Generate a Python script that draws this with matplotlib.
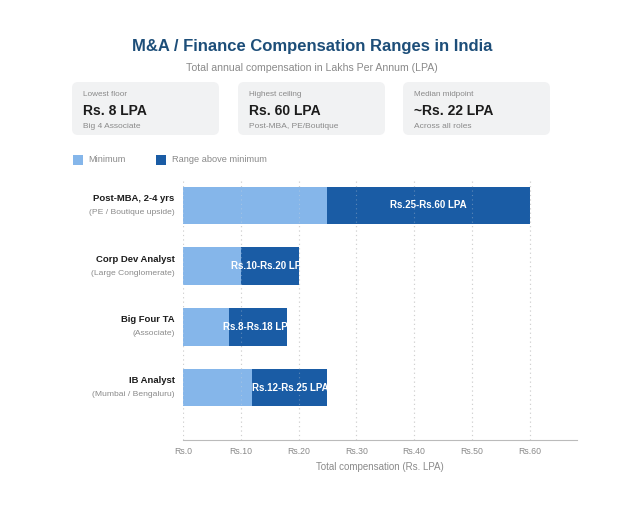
import matplotlib.pyplot as plt
from matplotlib.patches import FancyBboxPatch, Rectangle
from matplotlib.ticker import FuncFormatter

plt.rcParams['font.family'] = ['Liberation Sans', 'DejaVu Sans']

# Data (bottom to top)
roles = ['IB Analyst', 'Big Four TA', 'Corp Dev Analyst', 'Post-MBA, 2-4 yrs']
role_notes = ['(Mumbai / Bengaluru)', '(Associate)', '(Large Conglomerate)', '(PE / Boutique upside)']
mins = [12, 8, 10, 25]
maxs = [25, 18, 20, 60]
ticks = [0, 10, 20, 30, 40, 50, 60]

card_labels = ['Lowest floor', 'Highest ceiling', 'Median midpoint']
card_values = ['Rs. 8 LPA', 'Rs. 60 LPA', '~Rs. 22 LPA']
card_notes = ['Big 4 Associate', 'Post-MBA, PE/Boutique', 'Across all roles']

light = '#85B6EA'
dark = '#1A5CA5'
W, H = 624, 531

fig = plt.figure(figsize=(6.24, 5.31), dpi=100)

# overlay in pixel coordinates for header, cards and legend
ov = fig.add_axes([0, 0, 1, 1])
ov.set_xlim(0, W)
ov.set_ylim(H, 0)
ov.axis('off')

ov.text(312, 46, 'M&A / Finance Compensation Ranges in India', ha='center', va='center',
        fontsize=12, fontweight='bold', color='#1D4E79')
ov.text(312, 68, 'Total annual compensation in Lakhs Per Annum (LPA)', ha='center', va='center',
        fontsize=7.6, color='#8a8a8a')

card_x = [72, 238, 403]
for cx, lab, val, note in zip(card_x, card_labels, card_values, card_notes):
    ov.add_patch(FancyBboxPatch((cx, 82), 147, 53, boxstyle='round,pad=0,rounding_size=6',
                                facecolor='#F1F2F3', edgecolor='none'))
    ov.text(cx + 11, 95, lab, fontsize=5.9, color='#8a8a8a', va='center')
    ov.text(cx + 11, 111, val, fontsize=10, fontweight='bold', color='#1c1c1c', va='center')
    ov.text(cx + 11, 127, note, fontsize=6.0, color='#8a8a8a', va='center')

ov.add_patch(Rectangle((73, 155), 10, 10, facecolor=light, edgecolor='none'))
ov.text(88, 160, 'Minimum', fontsize=6.7, color='#8a8a8a', va='center')
ov.add_patch(Rectangle((156, 155), 10, 10, facecolor=dark, edgecolor='none'))
ov.text(172, 160, 'Range above minimum', fontsize=6.7, color='#8a8a8a', va='center')

# main chart
ax = fig.add_axes([183 / W, 1 - 440 / H, (577 - 183) / W, (440 - 180) / H])
y = list(range(len(roles)))
spans = [hi - lo for lo, hi in zip(mins, maxs)]
ax.barh(y, mins, height=0.62, color=light, zorder=2)
ax.barh(y, spans, left=mins, height=0.62, color=dark, zorder=2)

for yi, lo, hi in zip(y, mins, maxs):
    ax.text((lo + hi) / 2, yi, f'Rs.{lo}-Rs.{hi} LPA', ha='center', va='center',
            fontsize=7, fontweight='bold', color='white', zorder=4)

for yi, name, note in zip(y, roles, role_notes):
    ax.annotate(name, xy=(0, yi), xycoords=('axes fraction', 'data'), xytext=(-6, 5),
                textcoords='offset points', ha='right', va='center',
                fontsize=6.8, fontweight='bold', color='#1c1c1c')
    ax.annotate(note, xy=(0, yi), xycoords=('axes fraction', 'data'), xytext=(-6, -5),
                textcoords='offset points', ha='right', va='center',
                fontsize=6.1, color='#8a8a8a')

ax.set_xlim(0, 68.2)
ax.set_ylim(-0.865, 3.42)
ax.set_xticks(ticks)
ax.xaxis.set_major_formatter(FuncFormatter(lambda v, p: f'Rs.{int(v)}'))
ax.tick_params(axis='x', length=0, pad=5, labelsize=6.3, labelcolor='#8a8a8a')
ax.set_yticks([])
ax.grid(axis='x', linestyle=(0, (1, 3)), color='#c8c8c8', linewidth=0.8, zorder=0)
for xt in ticks:
    ax.axvline(xt, linestyle=(0, (1, 3)), color='#dddddd', linewidth=0.8, alpha=0.35, zorder=3)
for s in ['top', 'right', 'left']:
    ax.spines[s].set_visible(False)
ax.spines['bottom'].set_color('#bbbbbb')
ax.set_xlabel('Total compensation (Rs. LPA)', fontsize=7, color='#8a8a8a', labelpad=4)

fig.savefig('out.png', dpi=100)
